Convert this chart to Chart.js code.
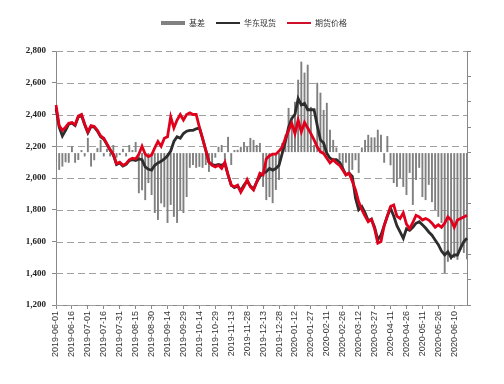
<!DOCTYPE html>
<html>
<head>
<meta charset="utf-8">
<script src="https://cdn.jsdelivr.net/npm/chart.js@4.4.1/dist/chart.umd.min.js"></script>
<style>
  html, body { margin: 0; padding: 0; background: #fff; }
  #wrap { width: 504px; height: 384px; }
</style>
</head>
<body>
<div id="wrap"><canvas id="basisChart" width="504" height="384"></canvas></div>
<script>
// dates every 3 days from 2019-06-01, a label shown every 15 days
const startDate = '2019-06-01';
const stepDays = 3;
const labelEvery = 5;

// 期货价格
const futures = [
  2460, 2330, 2300, 2320, 2345, 2350, 2335, 2390, 2400, 2340,
  2290, 2330, 2325, 2300, 2265, 2250, 2215, 2180, 2150, 2090,
  2100, 2080, 2090, 2115, 2125, 2120, 2150, 2200, 2150, 2135,
  2145, 2190, 2230, 2200, 2250, 2260, 2385, 2315, 2365, 2400,
  2365, 2400, 2410, 2400, 2400, 2320, 2250, 2175, 2100, 2080,
  2070, 2080, 2060, 2100, 2020, 1955, 1945, 1955, 1910, 1945,
  1990, 1945, 1925, 1975, 2030, 2020, 2120, 2140, 2150, 2150,
  2170, 2195, 2250, 2300, 2345, 2280, 2365, 2290, 2350, 2315,
  2280, 2240, 2195, 2165, 2155, 2125, 2095, 2115, 2095, 2080,
  2050, 2020, 2030, 1980, 1925, 1850, 1800, 1760, 1725, 1740,
  1680, 1590, 1600, 1700, 1760, 1820, 1830, 1760, 1745, 1780,
  1710, 1680, 1720, 1765, 1755, 1735, 1745, 1735, 1715, 1690,
  1705, 1690, 1715, 1755, 1735, 1690, 1735, 1745, 1755, 1765
];

// 华东现货
const spot = [
  2440, 2320, 2265, 2300, 2340, 2345, 2330, 2385, 2395, 2335,
  2285, 2325, 2320, 2295, 2260, 2245, 2210, 2175, 2145, 2085,
  2095, 2075, 2085, 2110, 2115, 2110, 2120, 2115, 2070, 2055,
  2050, 2080, 2095, 2105, 2120, 2140, 2170, 2230, 2260, 2250,
  2280, 2295, 2300, 2300, 2310, 2315, 2250, 2175, 2100, 2085,
  2080, 2085, 2080, 2090, 2020, 1955, 1940, 1950, 1920, 1955,
  1980, 1950, 1930, 1975, 2010, 2030, 2040, 2060, 2050, 2060,
  2080, 2155, 2230, 2320, 2375, 2400, 2500, 2460, 2470, 2430,
  2430, 2430, 2330, 2240, 2220, 2155, 2125, 2115, 2115, 2100,
  2060, 2020, 2030, 2010, 1875, 1800, 1820, 1780, 1730, 1740,
  1690, 1610, 1640, 1700, 1760, 1810, 1760, 1700, 1660, 1620,
  1680, 1670, 1690, 1715, 1725, 1705, 1685, 1660, 1640, 1610,
  1580, 1540, 1515, 1535, 1500, 1515, 1515, 1560, 1600, 1620
];

// 基差 (right axis, not labelled)
const basis = [
  -40, -68, -55, -38, -40, 25, -40, -29, 10, -15,
  58, -55, -30, 18, 50, -15, 15, -15, 30, -20,
  -10, 15, -15, 30, 10, 42, -160, -148, -187, -120,
  -167, -238, -265, -200, -215, -277, -206, -253, -277, -226,
  -238, -175, -60, -49, -60, -56, -60, -49, -76, -50,
  -20, 23, 30, -30, 62, -49, 10, 11, 23, 42,
  23, 58, 50, 30, 38, -135, -187, -175, -199, -147,
  -108, 38, 70, 176, 117, 200, 287, 358, 315, 346,
  180, 30, 275, 236, 168, 196, 90, 50, 20, -29,
  -68, -40, -80, -68, -30, -80, 20, 50, 70, 60,
  60, 90, 70, -40, 65, -50, -120, -135, -100, -135,
  -167, -80, -206, -108, -60, -175, -187, -127, -195, -226,
  -253, -277, -475, -430, -422, -415, -422, -383, -395, -420
];

const leftTicks = { min: 1200, max: 2800, step: 200 };
const rightTicks = { min: -600, max: 400, step: 100 };

function buildDates() {
  const out = [];
  const t0 = Date.parse(startDate + 'T00:00:00Z');
  for (let i = 0; i < futures.length; i++) {
    out.push(new Date(t0 + i * stepDays * 86400000).toISOString().slice(0, 10));
  }
  return out;
}
const categories = buildDates();

// dashed horizontal grid at the left axis ticks, under the data
const dashedGrid = {
  id: 'dashedGrid',
  beforeDatasetsDraw(chart) {
    const ctx = chart.ctx;
    const area = chart.chartArea;
    const scale = chart.scales.y;
    ctx.save();
    ctx.strokeStyle = '#a0a0a0';
    ctx.lineWidth = 1;
    ctx.setLineDash([7, 4]);
    scale.ticks.forEach(function(t) {
      const y = Math.round(scale.getPixelForValue(t.value)) + 0.5;
      ctx.beginPath();
      ctx.moveTo(area.left, y);
      ctx.lineTo(area.right, y);
      ctx.stroke();
    });
    ctx.restore();
  }
};

// legend drawn as one centred row above the plot
const legendRow = {
  id: 'legendRow',
  afterDraw(chart) {
    const ctx = chart.ctx;
    ctx.save();
    ctx.font = '8px "Noto Sans CJK SC"';
    ctx.textBaseline = 'middle';
    ctx.textAlign = 'left';
    const items = chart.data.datasets.map(function(ds) {
      return { text: ds.label, color: ds.legendColor, h: ds.type === 'bar' ? 4 : 2 };
    });
    const sw = 24, gap = 4, spacing = 11;
    let total = 0;
    items.forEach(function(it) {
      it.w = ctx.measureText(it.text).width;
      total += sw + gap + it.w;
    });
    total += spacing * (items.length - 1);
    let x = 254 - total / 2;
    const y = 23;
    items.forEach(function(it) {
      ctx.fillStyle = it.color;
      ctx.fillRect(x, y - it.h / 2, sw, it.h);
      x += sw + gap;
      ctx.fillStyle = '#333';
      ctx.fillText(it.text, x, y);
      x += it.w + spacing;
    });
    ctx.restore();
  }
};

const ctx = document.getElementById('basisChart').getContext('2d');

new Chart(ctx, {
  type: 'bar',
  data: {
    labels: categories,
    datasets: [
      {
        type: 'bar',
        label: '基差',
        data: basis,
        yAxisID: 'y1',
        backgroundColor: '#808080',
        legendColor: '#808080',
        barPercentage: 1,
        categoryPercentage: 0.6,
        order: 3
      },
      {
        type: 'line',
        label: '华东现货',
        data: spot,
        yAxisID: 'y',
        borderColor: '#2d2d2d',
        legendColor: '#2d2d2d',
        borderWidth: 2.8,
        pointRadius: 0,
        tension: 0,
        order: 2
      },
      {
        type: 'line',
        label: '期货价格',
        data: futures,
        yAxisID: 'y',
        borderColor: '#e0001b',
        legendColor: '#d0102a',
        borderWidth: 2.8,
        pointRadius: 0,
        tension: 0,
        order: 1
      }
    ]
  },
  options: {
    responsive: false,
    animation: false,
    devicePixelRatio: 1,
    layout: { padding: { top: 51, right: 0, bottom: 0, left: 0 } },
    plugins: {
      legend: { display: false },
      tooltip: { enabled: false }
    },
    scales: {
      x: {
        type: 'category',
        offset: false,
        grid: {
          offset: false,
          drawOnChartArea: false,
          drawTicks: true,
          tickLength: 4,
          color: '#888'
        },
        border: { color: '#888', width: 1 },
        ticks: {
          autoSkip: false,
          minRotation: 90,
          maxRotation: 90,
          padding: 2,
          color: '#333',
          font: { family: 'Liberation Sans', size: 9 },
          callback: function(value, index) {
            return index % labelEvery === 0 ? this.getLabelForValue(value) : null;
          }
        },
        afterFit: function(scale) { scale.height = 79; }
      },
      y: {
        position: 'left',
        min: leftTicks.min,
        max: leftTicks.max,
        ticks: {
          stepSize: leftTicks.step,
          padding: 6,
          color: '#222',
          font: { family: 'Liberation Serif', size: 9, weight: 'bold' },
          callback: function(v) { return v.toLocaleString('en-US'); }
        },
        grid: {
          drawOnChartArea: false,
          tickLength: 4,
          color: '#888'
        },
        border: { color: '#888', width: 1 },
        afterFit: function(scale) { scale.width = 56; }
      },
      y1: {
        position: 'right',
        min: rightTicks.min,
        max: rightTicks.max,
        ticks: { stepSize: rightTicks.step, display: false },
        grid: {
          drawOnChartArea: false,
          tickLength: 4,
          color: '#888'
        },
        border: { color: '#888', width: 1 },
        afterFit: function(scale) { scale.width = 37; }
      }
    }
  },
  plugins: [dashedGrid, legendRow]
});
</script>
</body>
</html>
